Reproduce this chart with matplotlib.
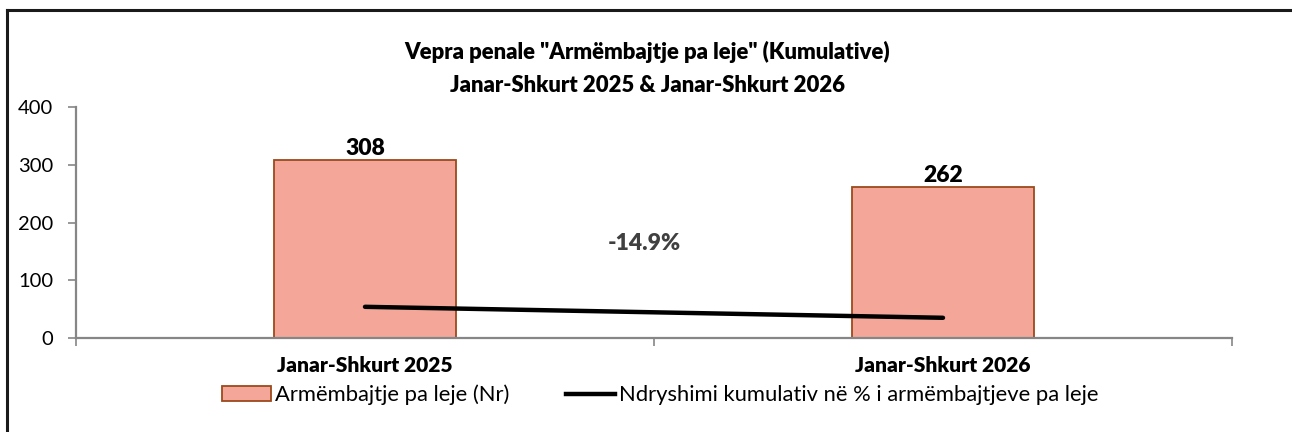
import matplotlib
matplotlib.use("Agg")
import matplotlib.pyplot as plt
from matplotlib.lines import Line2D
from matplotlib.patches import Patch
from matplotlib.transforms import blended_transform_factory

plt.rcParams['font.family'] = ['Lato', 'DejaVu Sans']

# ---- data ----
categories = ["Janar-Shkurt 2025", "Janar-Shkurt 2026"]
bar_values = [308, 262]
line_values = [54, 35]          # cumulative % change line (drawn on hidden scale)
change_label = "-14.9%"
y_ticks = [0, 100, 200, 300, 400]
title_lines = ['Vepra penale "Armëmbajtje pa leje" (Kumulative)',
               'Janar-Shkurt 2025 & Janar-Shkurt 2026']
legend_labels = ["Armëmbajtje pa leje (Nr)",
                 "Ndryshimi kumulativ në % i armëmbajtjeve pa leje"]

BOLD = 800

W, H = 1292, 432
fig = plt.figure(figsize=(W / 100, H / 100), dpi=100)
fig.patch.set_facecolor("white")

ax = fig.add_axes([76 / W, 1 - 338 / H, (1232 - 76) / W, (338 - 107) / H])

x = list(range(len(categories)))
bar_face = "#F4A799"
bar_edge = "#9C4A1C"
ax.bar(x, bar_values, width=0.315, color=bar_face, edgecolor=bar_edge,
       linewidth=1.3, zorder=2)
ax.plot(x, line_values, color="black", linewidth=3.2, solid_capstyle="round",
        zorder=3)

for xi, v in zip(x, bar_values):
    ax.text(xi, v + 2, str(v), ha="center", va="bottom", fontsize=16.5,
            fontweight=BOLD, color="black")

ax.text(0.484, 163, change_label, ha="center", va="center", fontsize=16.5,
        fontweight=BOLD, color="#404040")

ax.set_xlim(-0.5, len(categories) - 0.5)
ax.set_ylim(0, 400)
ax.set_yticks(y_ticks)
ax.set_yticklabels([str(t) for t in y_ticks], fontsize=14.5)
ax.set_xticks([-0.5, 0.5, 1.5])
ax.set_xticklabels([])
ax.tick_params(axis="x", length=6, width=1.2, color="#868686", direction="out")
ax.tick_params(axis="y", length=6, width=1.2, color="#868686", direction="out",
               pad=10.5)

trans = blended_transform_factory(ax.transData, ax.transAxes)
for xi, c in zip(x, categories):
    ax.text(xi, -0.12, c, transform=trans, ha="center", va="center",
            fontsize=15.1, fontweight=BOLD)

for s in ["top", "right"]:
    ax.spines[s].set_visible(False)
for s in ["left", "bottom"]:
    ax.spines[s].set_color("#868686")
    ax.spines[s].set_linewidth(1.6)

fig.text(647 / W, 1 - 52 / H, title_lines[0], ha="center", va="center",
         fontsize=15.9, fontweight=BOLD)
fig.text(647 / W, 1 - 85 / H, title_lines[1], ha="center", va="center",
         fontsize=15.9, fontweight=BOLD)

handles = [Patch(facecolor=bar_face, edgecolor=bar_edge, linewidth=1.3),
           Line2D([0], [0], color="black", linewidth=3.2)]
fig.legend(handles, legend_labels, loc="center", bbox_to_anchor=(660 / W, 1 - 395 / H),
           ncol=2, frameon=False, fontsize=15.8, handlelength=2.25,
           handleheight=0.7, handletextpad=0.15, columnspacing=2.6)

# outer frame (top and left edges visible)
fig.add_artist(Line2D([6.5 / W, 6.5 / W], [0, 1 - 10 / H], transform=fig.transFigure,
                      color="#1a1a1a", linewidth=2.2))
fig.add_artist(Line2D([6.5 / W, 1], [1 - 10 / H, 1 - 10 / H], transform=fig.transFigure,
                      color="#1a1a1a", linewidth=2.2))

fig.savefig("out.png", dpi=100)
